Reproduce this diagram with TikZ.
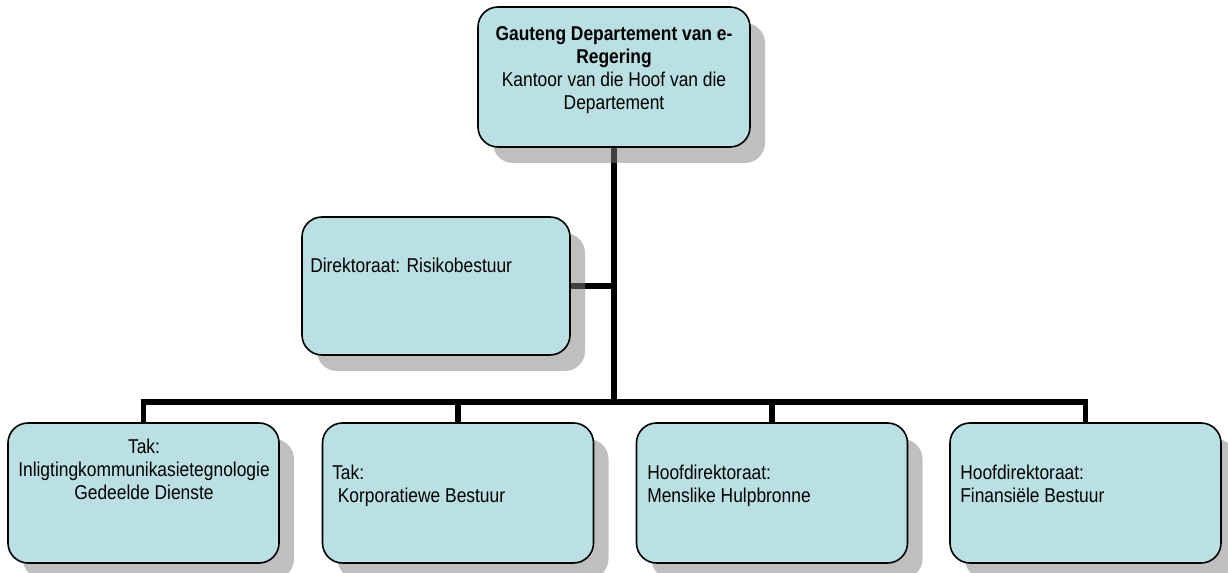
\documentclass[tikz,border=0pt]{standalone}
\usepackage{fontspec}
\setmainfont{Liberation Sans}[FakeStretch=0.87]
\usetikzlibrary{shadows,backgrounds}
\definecolor{boxfill}{HTML}{BBE0E3}
\begin{document}
\begin{tikzpicture}[x=0.75pt,y=-0.75pt,
  box/.style={draw=black, line width=1.2pt, fill=boxfill, rounded corners=15pt,
    minimum width=203.25pt, minimum height=105pt, inner sep=0pt,
    drop shadow={shadow xshift=11.25pt, shadow yshift=-12pt, opacity=0.5, fill=black!50}},
  lbl/.style={inner sep=0pt, font=\fontsize{15}{17.25}\selectfont},
  conn/.style={line width=4pt}]
\useasboundingbox (0,0) rectangle (1228,573);
\node[box, minimum width=204pt] (top) at (614,77) {};
\node[box, minimum width=201pt, minimum height=103.5pt] (risk) at (436,286) {};
\node[box] (b1) at (143.5,493) {};
\node[box] (b2) at (458,493) {};
\node[box] (b3) at (772,493) {};
\node[box] (b4) at (1085.5,493) {};

\node[lbl, anchor=north, align=center] (tTop) at (614,24)
  {\strut\textbf{Gauteng Departement van e-}\\\textbf{Regering}\\Kantoor van die Hoof van die\\Departement};
\node[lbl, anchor=north west] (tRisk) at (310,256) {\strut Direktoraat: Risikobestuur};
\node[lbl, anchor=north, align=center] (t1) at (144,437)
  {\strut Tak:\\Inligtingkommunikasietegnologie\\Gedeelde Dienste};
\node[lbl, anchor=north west, align=left] (t2) at (332,463)
  {\strut Tak:\\\hspace*{0.278em}Korporatiewe Bestuur};
\node[lbl, anchor=north west, align=left] (t3) at (647,463)
  {\strut Hoofdirektoraat:\\Menslike Hulpbronne};
\node[lbl, anchor=north west, align=left] (t4) at (960,463)
  {\strut Hoofdirektoraat:\\Finansiële Bestuur};

\begin{scope}[on background layer]
\coordinate (bus) at (614,402);
\draw[conn] (top.south) -- (bus);
\draw[conn] (b1.north) |- (bus) -| (b4.north);
\draw[conn] (b2.north) -- (b2.north |- bus);
\draw[conn] (b3.north) -- (b3.north |- bus);
\draw[conn] (risk.east) -- (risk.east -| top.south);
\end{scope}
\end{tikzpicture}
\end{document}
